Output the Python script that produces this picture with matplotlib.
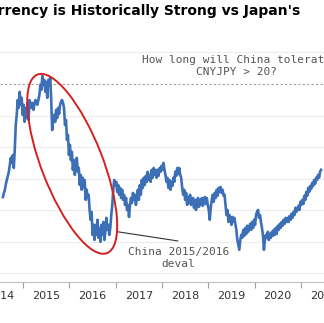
import numpy as np
import matplotlib
matplotlib.use("Agg")
import matplotlib.pyplot as plt
from matplotlib.patches import Ellipse
from matplotlib.transforms import IdentityTransform

# ---------------- data ----------------
title = "China's Currency is Historically Strong vs Japan's"
note_text = "How long will China tolerate\nCNYJPY > 20?"
deval_text = "China 2015/2016\ndeval"

start_year = 2014.553
end_year = 2021.447

cnyjpy = [
    16.42, 16.55, 16.65, 16.84, 16.96, 17.09, 17.22, 17.44, 17.66, 17.50,
    17.75, 17.34, 17.91, 18.70, 19.02, 19.49, 19.24, 19.75, 19.34, 19.56,
    19.02, 19.34, 18.80, 19.24, 18.92, 19.40, 18.86, 19.49, 19.37, 19.24,
    19.40, 19.18, 19.37, 19.49, 19.40, 19.34, 19.49, 19.65, 19.97, 19.81,
    20.25, 19.97, 20.13, 19.75, 20.06, 19.56, 20.13, 19.97, 20.19, 19.49,
    18.54, 18.86, 19.02, 18.80, 19.18, 18.92, 19.24, 19.05, 19.34, 19.43,
    19.49, 19.40, 19.24, 18.70, 18.86, 18.23, 18.39, 17.75, 18.07, 17.59,
    17.85, 17.28, 17.59, 17.12, 17.44, 17.66, 17.22, 17.34, 16.80, 17.12,
    16.65, 17.03, 16.71, 16.96, 16.33, 16.65, 16.39, 16.49, 16.01, 15.70,
    15.95, 15.22, 15.54, 15.06, 15.54, 15.22, 15.70, 15.13, 15.44, 15.00,
    15.54, 15.22, 15.63, 15.06, 15.32, 15.76, 15.38, 15.54, 15.22, 15.44,
    15.85, 16.17, 16.65, 16.96, 16.80, 16.90, 16.58, 16.80, 16.49, 16.71,
    16.39, 16.65, 16.33, 16.49, 16.17, 16.39, 16.01, 16.17, 15.79, 16.17,
    16.39, 16.23, 16.55, 16.33, 16.49, 16.17, 16.39, 16.65, 16.33, 16.80,
    16.49, 16.96, 16.71, 17.03, 16.80, 17.09, 16.90, 17.22, 16.96, 17.12,
    16.90, 17.28, 17.03, 17.34, 17.12, 17.28, 17.03, 17.28, 17.09, 17.34,
    17.22, 17.41, 17.28, 17.50, 17.28, 17.12, 16.90, 17.03, 16.71, 16.96,
    16.65, 16.90, 16.77, 17.03, 16.90, 17.22, 17.09, 17.34, 17.15, 17.34,
    17.12, 17.03, 16.71, 16.49, 16.65, 16.33, 16.55, 16.17, 16.42, 16.23,
    16.49, 16.17, 16.33, 16.39, 16.08, 16.33, 16.01, 16.17, 16.39, 16.11,
    16.33, 16.17, 16.39, 16.14, 16.33, 16.42, 16.20, 16.39, 16.17, 16.01,
    15.70, 16.08, 16.33, 16.49, 16.27, 16.55, 16.39, 16.65, 16.46, 16.71,
    16.58, 16.74, 16.55, 16.65, 16.46, 16.49, 16.17, 15.85, 16.01, 15.63,
    15.85, 15.76, 15.54, 15.79, 15.63, 15.76, 15.57, 15.38, 15.06, 14.91,
    14.75, 15.06, 15.22, 15.13, 15.38, 15.19, 15.44, 15.25, 15.51, 15.32,
    15.44, 15.57, 15.38, 15.63, 15.44, 15.70, 15.54, 15.85, 15.95, 16.01,
    15.76, 15.85, 15.63, 15.44, 15.22, 14.75, 15.06, 15.22, 15.13, 15.32,
    15.06, 15.25, 15.13, 15.32, 15.19, 15.38, 15.22, 15.44, 15.25, 15.51,
    15.38, 15.57, 15.44, 15.63, 15.51, 15.70, 15.57, 15.76, 15.63, 15.76,
    15.63, 15.82, 15.70, 15.89, 15.76, 15.95, 15.85, 16.08, 15.95, 16.01,
    16.14, 16.01, 16.27, 16.17, 16.33, 16.20, 16.46, 16.33, 16.58, 16.46,
    16.71, 16.58, 16.77, 16.68, 16.87, 16.77, 16.96, 16.84, 17.03, 16.96,
    17.12, 17.03, 17.22, 17.28,
]

year_starts = [2015, 2016, 2017, 2018, 2019, 2020, 2021]
year_labels = ["2014", "2015", "2016", "2017", "2018", "2019", "2020", "2021"]
grid_levels = [14, 15, 16, 17, 18, 19, 21]
threshold = 20

# ---------------- figure ----------------
W, H = 324, 323
fig = plt.figure(figsize=(W / 100, H / 100), dpi=100)
fig.patch.set_facecolor("white")
ax = fig.add_axes([0, 41 / H, 1, 242 / H])
ax.set_xlim(start_year, end_year)
ax.set_ylim(13.73, 21.39)

n = len(cnyjpy)
step = (end_year - start_year) / n
t = start_year + step * (np.arange(n) + 0.5)

for g in grid_levels:
    ax.axhline(g, color="#ececec", lw=0.8, zorder=0)
ax.axhline(threshold, color="#a0a0a0", lw=0.8, ls=(0, (2, 2)), zorder=1)

ax.plot(t, cnyjpy, color="#3d6fb6", lw=1.9, zorder=3, solid_joinstyle="round")

# spines / ticks
for s in ["top", "left", "right"]:
    ax.spines[s].set_visible(False)
ax.spines["bottom"].set_color("#c0c0c0")
ax.spines["bottom"].set_linewidth(0.8)
ax.set_yticks([])
ax.set_xticks(year_starts)
ax.set_xticklabels([])
ax.set_xticks([y + 0.5 for y in range(2014, 2022)], minor=True)
ax.set_xticklabels(year_labels, minor=True)
ax.tick_params(axis="x", which="major", direction="out", length=4,
               width=0.8, color="#a0a0a0")
ax.tick_params(axis="x", which="minor", length=0, pad=6.5,
               labelsize=8, labelcolor="#333333")

# title
fig.text(300 / W, 1 - 11 / H, title, ha="right", va="center",
         fontsize=10, fontweight="bold", color="black",
         family="DejaVu Sans")

# top annotation
ax.text(2019.62, 20.58, note_text, ha="center", va="center",
        fontsize=8, family="DejaVu Sans Mono", color="#555555",
        linespacing=1.25, zorder=4,
        bbox=dict(facecolor="white", edgecolor="none", pad=1))

# deval annotation
ax.plot([2017.04, 2018.34], [15.32, 15.03], color="#333333", lw=0.8, zorder=4)
ax.text(2018.36, 14.50, deval_text, ha="center", va="center",
        fontsize=8, family="DejaVu Sans Mono", color="#555555",
        linespacing=1.25, zorder=4)

# red ellipse around the 2015/2016 decline
fig.canvas.draw()
cx, cy = ax.transData.transform((2016.06, 17.47))
ell = Ellipse((cx, cy), width=2 * 95.8, height=2 * 30.6, angle=111.3,
              transform=IdentityTransform(), fill=False,
              edgecolor="#d42020", lw=1.4, zorder=5)
fig.add_artist(ell)

fig.savefig("out.png", dpi=100, facecolor="white")
